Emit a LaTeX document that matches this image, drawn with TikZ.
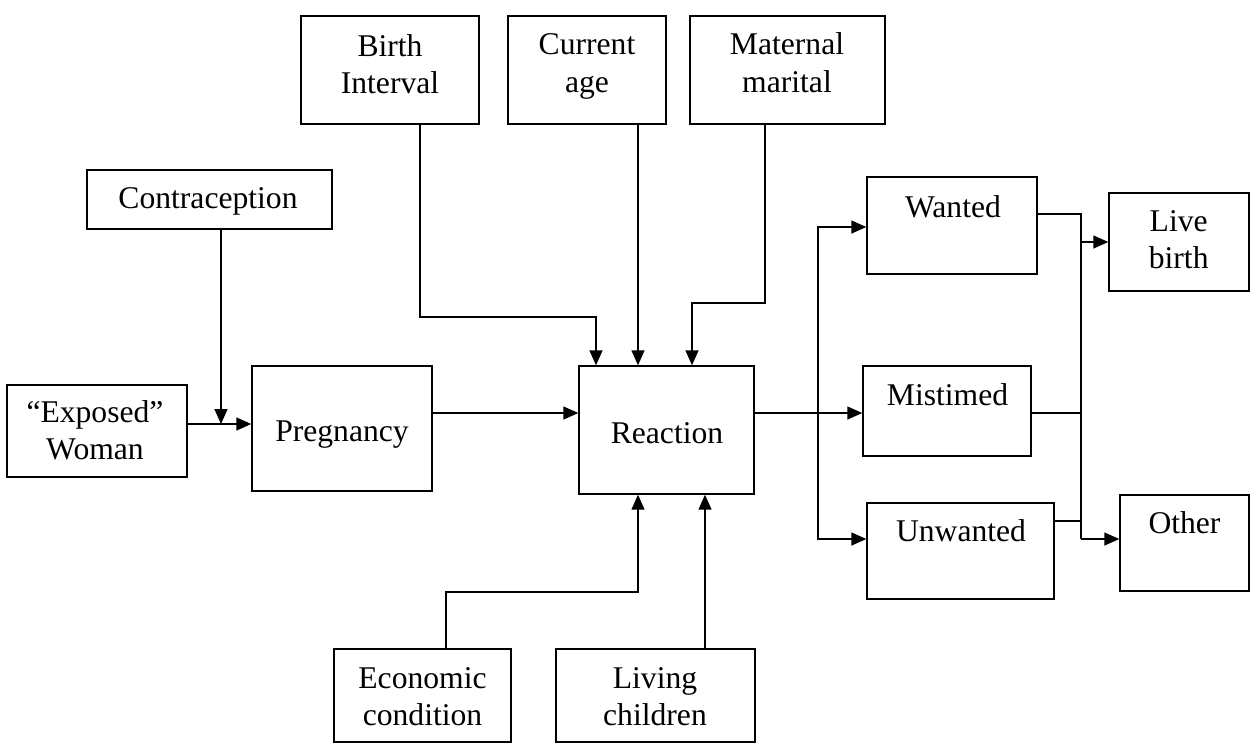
\documentclass[tikz,border=0pt]{standalone}
\usepackage{fontspec}
\setmainfont{Liberation Serif}
\usepackage{tikz}
\usetikzlibrary{arrows.meta}

\tikzset{
	blk/.style 2 args={draw, line width=0.8pt, inner sep=0pt, minimum width=#1*0.02cm, minimum height=#2*0.02cm},
	txt/.style={align=center, inner sep=0pt, font=\fontsize{18}{21.3}\selectfont},
	ln/.style={line width=0.8pt},
	arr/.style={line width=0.8pt, -{Triangle[length=0.3cm, width=0.26cm]}}
}

\begin{document}
\begin{tikzpicture}[x=0.02cm, y=-0.02cm]
				\useasboundingbox (0,0) rectangle (1253,748);
				
				% boxes
				\node [blk={178}{108}] (birth) at (390,70) {};
				\node [blk={158}{108}] (age) at (587,70) {};
				\node [blk={195}{108}] (marital) at (787.5,70) {};
				\node [blk={245}{59}] (contra) at (209.5,199.5) {};
				\node [blk={180}{92}] (exposed) at (97,431) {};
				\node [blk={180}{125}] (preg) at (342,428.5) {};
				\node [blk={175}{128}] (react) at (666.5,430) {};
				\node [blk={177}{93}] (econ) at (422.5,695.5) {};
				\node [blk={199}{93}] (living) at (655.5,695.5) {};
				\node [blk={170}{97}] (wanted) at (952,225.5) {};
				\node [blk={168}{90}] (mistimed) at (947,411) {};
				\node [blk={187}{96}] (unwanted) at (960.5,551) {};
				\node [blk={140}{98}] (live) at (1179,242) {};
				\node [blk={129}{96}] (other) at (1184.5,543) {};
				
				% texts
				\node [txt] (birthT) at (390,64) {Birth\\Interval};
				\node [txt] (ageT) at (587,66.5) {Current\\age};
				\node [txt] (maritalT) at (787,62.5) {Maternal\\marital};
				\node [txt] (contraT) at (208,201.5) {Contraception};
				\node [txt] (exposedT) at (95,430.5) {``Exposed''\\Woman};
				\node [txt] (pregT) at (342,435) {Pregnancy};
				\node [txt] (reactT) at (667,433) {Reaction};
				\node [txt] (econT) at (422.5,696.5) {Economic\\condition};
				\node [txt] (livingT) at (655,696.5) {Living\\children};
				\node [txt] (wantedT) at (953,207) {Wanted};
				\node [txt] (mistimedT) at (947.5,395) {Mistimed};
				\node [txt] (unwantedT) at (961,531) {Unwanted};
				\node [txt] (liveT) at (1178.7,239.5) {Live\\birth};
				\node [txt] (otherT) at (1184.5,523) {Other};
				
				% corners of the connectors
				\coordinate (jc) at (221,424);
				\coordinate (pr) at (500,413);
				\coordinate (kb) at (420,317);
				\coordinate (kb2) at (596,317);
				\coordinate (ka) at (638,300);
				\coordinate (km) at (765,303);
				\coordinate (km2) at (692,303);
				\coordinate (ke) at (446,592);
				\coordinate (ke2) at (638,592);
				\coordinate (kl) at (705,600);
				\coordinate (ro) at (818,413);
				\coordinate (kw) at (818,227);
				\coordinate (ku) at (818,539);
				\coordinate (ow) at (1081,214);
				\coordinate (ol) at (1081,242);
				\coordinate (ou) at (1081,521);
				\coordinate (oo) at (1081,539);
				
				% left part
				\draw [arr] (contra.south -| jc) -- (jc);
				\draw [arr] (exposed.east |- jc) -- (preg.west |- jc);
				\draw [arr] (preg.east |- pr) -- (react.west |- pr);
				
				% into the reaction
				\draw [arr] (birth.south -| kb) -- (kb) -- (kb2) -- (kb2 |- react.north);
				\draw [arr] (age.south -| ka) -- (ka |- react.north);
				\draw [arr] (marital.south -| km) -- (km) -- (km2) -- (km2 |- react.north);
				\draw [arr] (econ.north -| ke) -- (ke) -- (ke2) -- (ke2 |- react.south);
				\draw [arr] (living.north -| kl) -- (kl |- react.south);
				
				% out of the reaction
				\draw [arr] (react.east |- ro) -- (mistimed.west |- ro);
				\draw [arr] (ro) -- (kw) -- (wanted.west |- kw);
				\draw [arr] (ro) -- (ku) -- (unwanted.west |- ku);
				
				\draw [ln] (wanted.east |- ow) -- (ow) -- (oo);
				\draw [ln] (mistimed.east |- ro) -- (ow |- ro);
				\draw [ln] (unwanted.east |- ou) -- (ou);
				\draw [arr] (ol) -- (live.west |- ol);
				\draw [arr] (oo) -- (other.west |- oo);
\end{tikzpicture}
\end{document}
